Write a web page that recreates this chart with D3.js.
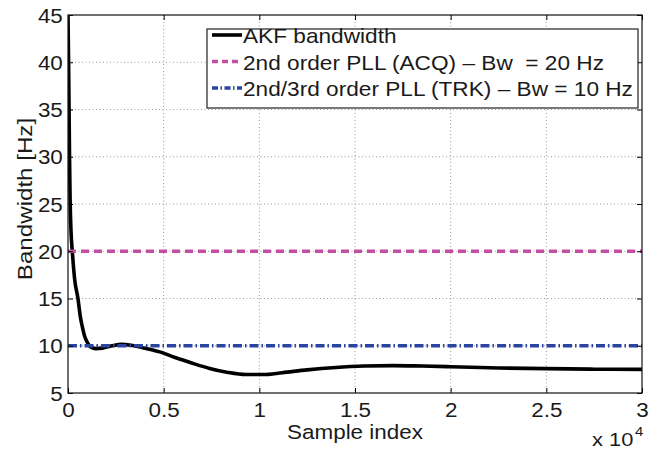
<!DOCTYPE html>
<html><head><meta charset="utf-8">
<script src="https://cdn.jsdelivr.net/npm/d3@7"></script>
<style>
html,body{margin:0;padding:0;background:#fff;}
svg{display:block;font-family:"Liberation Sans",Arial,Helvetica,sans-serif;}
text{white-space:pre;}
</style></head>
<body>
<svg id="chart" width="659" height="452"></svg>
<script>
// ---- data ----
const sampleIdx = [0, 30, 55, 80, 110, 160, 225, 350, 520, 650, 750, 870, 1000, 1200, 1450, 1800, 2300, 2800, 3300, 3900, 4800, 5600, 6500, 7400, 8300, 9300, 10200, 11200, 12500, 14000, 15500, 17000, 18500, 20000, 22500, 25000, 27500, 30000];
const akfBw = [45, 40, 35, 30, 25.5, 22, 20, 17, 15, 13, 12, 11, 10.4, 9.85, 9.7, 9.75, 10.0, 10.15, 10.05, 9.8, 9.35, 8.75, 8.15, 7.6, 7.2, 6.95, 6.95, 7.15, 7.45, 7.7, 7.85, 7.9, 7.85, 7.78, 7.65, 7.58, 7.52, 7.5];
const acqBw = 20;
const trkBw = 10;
const xTicks = [0, 5000, 10000, 15000, 20000, 25000, 30000];
const xTickLabels = ["0", "0.5", "1", "1.5", "2", "2.5", "3"];
const yTicks = [5, 10, 15, 20, 25, 30, 35, 40, 45];
const legendLabels = ["AKF bandwidth", "2nd order PLL (ACQ) \u2013 Bw  = 20 Hz", "2nd/3rd order PLL (TRK) \u2013 Bw = 10 Hz"];

// ---- layout ----
const L = 68, T = 15, R = 642, B = 393;
const SX = 1.15;
const svg = d3.select("#chart");
const x = d3.scaleLinear().domain([0, 30000]).range([L, R]);
const y = d3.scaleLinear().domain([5, 45]).range([B, T]);

const pink = "#c44fa2", blue = "#2a44a2";

// grid
const grid = svg.append("g");
grid.selectAll(".gx").data(xTicks.slice(1, -1)).join("line")
  .attr("x1", d => x(d)).attr("x2", d => x(d)).attr("y1", T).attr("y2", B)
  .attr("stroke", "#9a9a9a").attr("stroke-width", 1).attr("stroke-dasharray", "1,2.5");
grid.selectAll(".gy").data(yTicks.slice(1, -1)).join("line")
  .attr("y1", d => y(d)).attr("y2", d => y(d)).attr("x1", L).attr("x2", R)
  .attr("stroke", "#9a9a9a").attr("stroke-width", 1).attr("stroke-dasharray", "1,2.5");

// clip
svg.append("clipPath").attr("id", "clip").append("rect")
  .attr("x", L).attr("y", T - 2).attr("width", R - L).attr("height", B - T + 2);

const plot = svg.append("g").attr("clip-path", "url(#clip)");
const line = d3.line().x((d, i) => x(sampleIdx[i])).y(d => y(d)).curve(d3.curveMonotoneX);
plot.append("path").datum(akfBw).attr("d", line)
  .attr("fill", "none").attr("stroke", "#000").attr("stroke-width", 3.6).attr("stroke-linejoin", "round");

plot.append("line").attr("x1", x(0)).attr("x2", x(30000)).attr("y1", y(acqBw)).attr("y2", y(acqBw))
  .attr("stroke", pink).attr("stroke-width", 3.6).attr("stroke-dasharray", "8,5");
plot.append("line").attr("x1", x(0)).attr("x2", x(30000)).attr("y1", y(trkBw)).attr("y2", y(trkBw))
  .attr("stroke", blue).attr("stroke-width", 3.6).attr("stroke-dasharray", "9,3,1.5,3");

// axes
const xAxis = svg.append("g").attr("transform", `translate(0,${B})`)
  .call(d3.axisBottom(x).tickValues(xTicks).tickFormat((d, i) => xTickLabels[i]).tickSizeInner(-5).tickSizeOuter(0));
xAxis.select(".domain").remove();
xAxis.selectAll(".tick line").attr("stroke", "#000");
xAxis.selectAll(".tick text").attr("y", 24).attr("dy", 0)
  .attr("font-size", 19.5).attr("font-family", "Liberation Sans, Arial").attr("fill", "#1a1a1a")
  .attr("transform", `scale(${SX},1)`);

const xAxisTop = svg.append("g").attr("transform", `translate(0,${T})`)
  .call(d3.axisTop(x).tickValues(xTicks).tickFormat("").tickSizeInner(-5).tickSizeOuter(0));
xAxisTop.select(".domain").remove();

const yAxis = svg.append("g").attr("transform", `translate(${L},0)`)
  .call(d3.axisLeft(y).tickValues(yTicks).tickFormat(d3.format("d")).tickSizeInner(-5).tickSizeOuter(0));
yAxis.select(".domain").remove();
yAxis.selectAll(".tick text").attr("x", -4.5).attr("dy", "0.36em")
  .attr("font-size", 19.5).attr("font-family", "Liberation Sans, Arial").attr("fill", "#1a1a1a")
  .attr("transform", `scale(${SX},1)`);

const yAxisR = svg.append("g").attr("transform", `translate(${R},0)`)
  .call(d3.axisRight(y).tickValues(yTicks).tickFormat("").tickSizeInner(-5).tickSizeOuter(0));
yAxisR.select(".domain").remove();

// frame
svg.append("rect").attr("x", L).attr("y", T).attr("width", R - L).attr("height", B - T)
  .attr("fill", "none").attr("stroke", "#111").attr("stroke-width", 1.2);

// helper for stretched text
function stext(tx, ty, str, size, anchor, rot) {
  return svg.append("text")
    .attr("transform", `translate(${tx},${ty})` + (rot ? ` rotate(${rot})` : "") + ` scale(${SX},1)`)
    .attr("font-size", size).attr("text-anchor", anchor || "start").attr("fill", "#1a1a1a")
    .attr("xml:space", "preserve")
    .text(str);
}

// axis labels
stext(355, 439, "Sample index", 19.5, "middle");
stext(32, 199, "Bandwidth [Hz]", 21, "middle", -90);
stext(592, 446, "x", 19, "start");
stext(609, 446, "10", 19, "start");
stext(635, 436, "4", 13, "start");

// legend
const lg = svg.append("g");
lg.append("rect").attr("x", 207).attr("y", 29).attr("width", 431).attr("height", 79)
  .attr("fill", "#fff").attr("stroke", "#222").attr("stroke-width", 1.2);
const legStyles = [
  {stroke: "#000", dash: null},
  {stroke: pink, dash: "6,4"},
  {stroke: blue, dash: "6,2.5,1.5,2.5"}
];
const rowY = [35, 61.5, 88];
legendLabels.forEach((lab, i) => {
  lg.append("line").attr("x1", 212).attr("x2", 242).attr("y1", rowY[i]).attr("y2", rowY[i])
    .attr("stroke", legStyles[i].stroke).attr("stroke-width", 3.6)
    .attr("stroke-dasharray", legStyles[i].dash);
  stext(243, rowY[i] + 8.3, lab, 19.7, "start");
});
</script>
</body></html>
